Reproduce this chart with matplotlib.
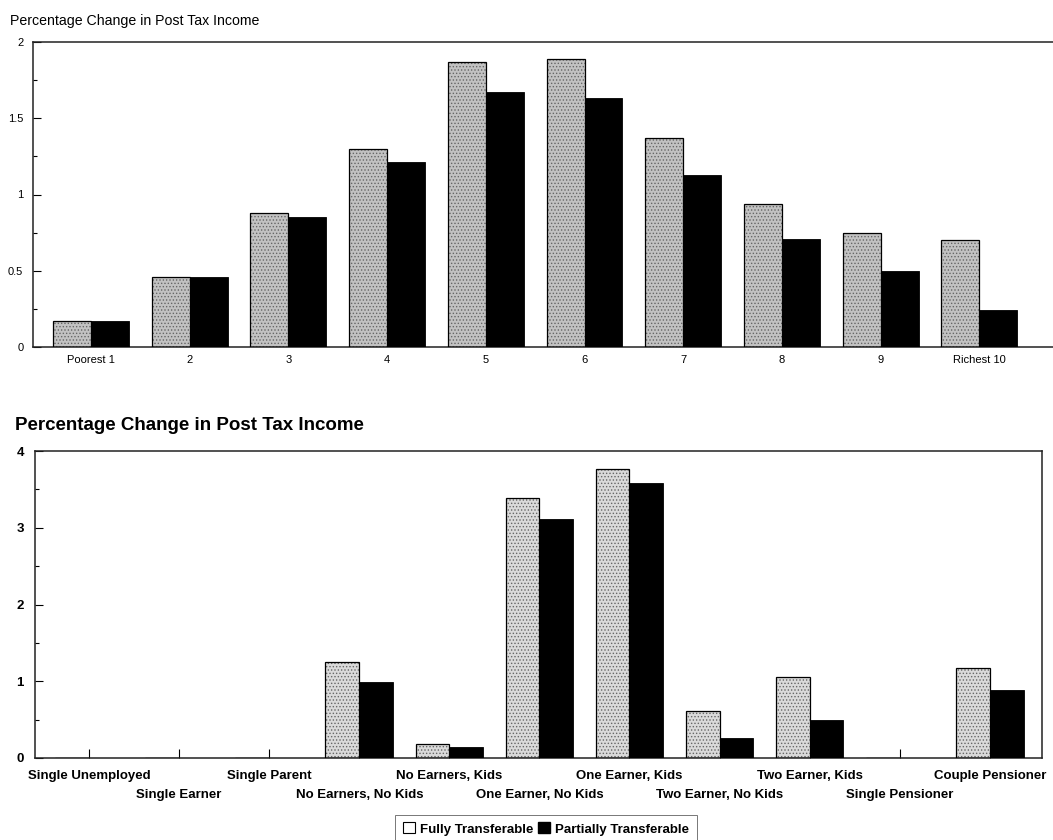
import matplotlib
matplotlib.use("Agg")
import matplotlib.pyplot as plt
from matplotlib.patches import Patch
import numpy as np

plt.rcParams['font.family'] = ['Liberation Sans', 'DejaVu Sans']
plt.rcParams['hatch.linewidth'] = 0.6

# ---------------- data ----------------
title_top = "Percentage Change in Post Tax Income"
deciles = ["Poorest 1", "2", "3", "4", "5", "6", "7", "8", "9", "Richest 10"]
decile_full = [0.17, 0.46, 0.88, 1.30, 1.87, 1.89, 1.37, 0.94, 0.75, 0.70]
decile_partial = [0.17, 0.46, 0.85, 1.21, 1.67, 1.63, 1.13, 0.71, 0.50, 0.24]
top_yticks = [0, 0.5, 1, 1.5, 2]
top_yticklabels = ["0", "0.5", "1", "1.5", "2"]

title_bottom = "Percentage Change in Post Tax Income"
family_types = ["Single Unemployed", "Single Earner", "Single Parent",
                "No Earners, No Kids", "No Earners, Kids",
                "One Earner, No Kids", "One Earner, Kids",
                "Two Earner, No Kids", "Two Earner, Kids",
                "Single Pensioner", "Couple Pensioner"]
family_full = [0, 0, 0, 1.25, 0.18, 3.39, 3.77, 0.61, 1.05, 0, 1.17]
family_partial = [0, 0, 0, 0.99, 0.14, 3.11, 3.58, 0.26, 0.49, 0, 0.88]
bottom_yticks = [0, 1, 2, 3, 4]
bottom_yticklabels = ["0", "1", "2", "3", "4"]

legend_labels = ["Fully Transferable", "Partially Transferable"]

# ---------------- figure ----------------
W, H = 1053, 840
fig = plt.figure(figsize=(W / 100, H / 100), dpi=100)

def fx(px):
    return px / W

def fy(py):
    return 1 - py / H

def draw_pair(ax, full, partial, width, fullcolor):
    x = np.arange(len(full))
    ax.bar(x - width / 2, full, width, color=fullcolor, edgecolor='#666666',
           hatch='.....', linewidth=0, zorder=2)
    ax.bar(x - width / 2, full, width, fill=False, edgecolor='black',
           linewidth=0.9, zorder=3)
    ax.bar(x + width / 2, partial, width, color='black', edgecolor='black',
           linewidth=0.6, zorder=3)
    return x

# ---- top panel ----
ax1 = fig.add_axes([fx(33), fy(347), fx(1053) - fx(33), fy(42) - fy(347)])
x1 = draw_pair(ax1, decile_full, decile_partial, 0.385, '#c2c2c2')
ax1.set_xlim(-0.588, 9.747)
ax1.set_ylim(0, 2)
ax1.set_yticks(top_yticks)
ax1.set_yticklabels(top_yticklabels, fontsize=8)
ax1.set_yticks(np.arange(0, 2.01, 0.25), minor=True)
ax1.set_xticks(x1)
ax1.set_xticklabels(deciles, fontsize=8)
ax1.tick_params(axis='y', which='major', direction='in', length=6, width=0.8, pad=7)
ax1.tick_params(axis='y', which='minor', direction='in', length=3, width=0.8)
ax1.tick_params(axis='x', which='major', direction='in', length=0, pad=6)
for s in ax1.spines.values():
    s.set_linewidth(1.1)
    s.set_color('#222222')
ax1.spines['right'].set_visible(False)
fig.text(fx(10), fy(21), title_top, fontsize=10.2, va='center', ha='left')

# ---- bottom panel ----
ax2 = fig.add_axes([fx(35), fy(758), fx(1042) - fx(35), fy(451) - fy(758)])
x2 = draw_pair(ax2, family_full, family_partial, 0.375, '#dadada')
ax2.set_xlim(-0.6, 10.58)
ax2.set_ylim(0, 4)
ax2.set_yticks(bottom_yticks)
ax2.set_yticklabels(bottom_yticklabels, fontsize=9.5, fontweight='bold')
ax2.set_yticks(np.arange(0, 4.01, 0.5), minor=True)
ax2.set_xticks(x2)
ax2.set_xticklabels(family_types, fontsize=9.5, fontweight='bold')
ax2.tick_params(axis='y', which='major', direction='in', length=6, width=0.8, pad=8)
ax2.tick_params(axis='y', which='minor', direction='in', length=3, width=0.8)
ax2.tick_params(axis='x', which='major', direction='in', length=6.5, width=0.8)
for i, t in enumerate(ax2.xaxis.get_major_ticks()):
    t.set_pad(8.5 if i % 2 == 0 else 8.5 + 13.7)
for s in ax2.spines.values():
    s.set_linewidth(1.1)
    s.set_color('#222222')
fig.text(fx(15), fy(425), title_bottom, fontsize=13.5, fontweight='bold',
         va='center', ha='left')

handles = [Patch(facecolor='white', edgecolor='black', linewidth=0.8),
           Patch(facecolor='black', edgecolor='black')]
leg = fig.legend(handles, legend_labels, loc='center',
                 bbox_to_anchor=(fx(546), fy(829)), ncol=2, frameon=True,
                 fancybox=False, prop={'weight': 'bold', 'size': 9.5},
                 handlelength=0.9, handleheight=0.9, handletextpad=0.4,
                 columnspacing=0.3, borderpad=0.6)
leg.get_frame().set_edgecolor('#555555')
leg.get_frame().set_linewidth(0.7)

fig.savefig("out.png", dpi=100)
